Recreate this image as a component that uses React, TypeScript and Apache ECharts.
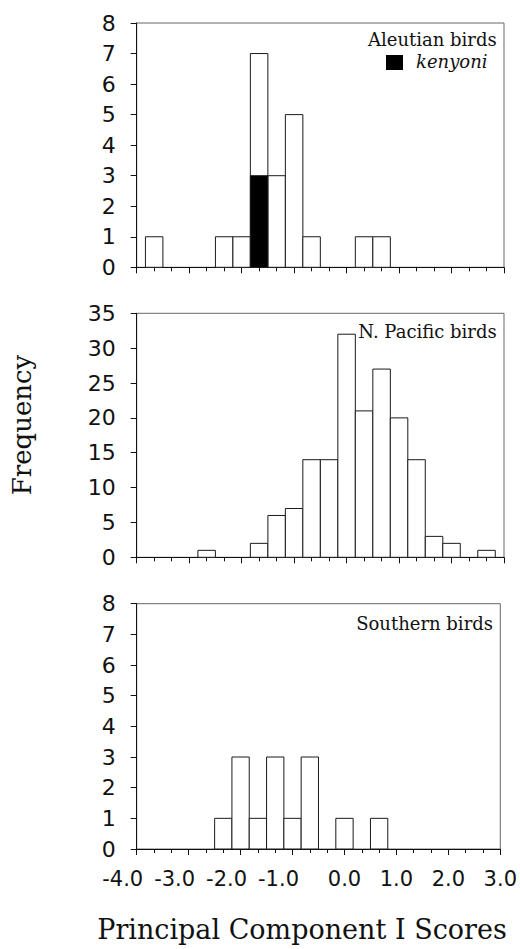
import React, { useEffect, useRef } from "react";
import * as echarts from "echarts";

// Histogram bin centres (PC I score) and bin width
const binCenters = [
  -3.667, -3.333, -3.0, -2.667, -2.333, -2.0, -1.667, -1.333, -1.0, -0.667,
  -0.333, 0.0, 0.333, 0.667, 1.0, 1.333, 1.667, 2.0, 2.333, 2.667,
];
const BIN_WIDTH = 1 / 3;

// Frequencies per bin
const aleutianTotal = [1, 0, 0, 0, 1, 1, 7, 3, 5, 1, 0, 0, 1, 1, 0, 0, 0, 0, 0, 0];
const kenyoni = [0, 0, 0, 0, 0, 0, 3, 0, 0, 0, 0, 0, 0, 0, 0, 0, 0, 0, 0, 0];
const nPacific = [0, 0, 0, 1, 0, 0, 2, 6, 7, 14, 14, 32, 21, 27, 20, 14, 3, 2, 0, 1];
const southern = [0, 0, 0, 0, 1, 3, 1, 3, 1, 3, 0, 1, 0, 1, 0, 0, 0, 0, 0, 0];

const panelTitles = ["Aleutian birds", "N. Pacific birds", "Southern birds"];
const legendLabel = "kenyoni";
const yMax = [8, 35, 8];
const yInterval = [1, 5, 1];
const xMin = -4;
const xMax = 3;
const yTitle = "Frequency";
const xTitle = "Principal Component I Scores";

const SANS = "DejaVu Sans";
const SERIF = "DejaVu Serif";

export default function App() {
  const ref = useRef<HTMLDivElement>(null);

  useEffect(() => {
    if (!ref.current) return;
    const chart = echarts.init(ref.current, null, { renderer: "svg" });

    const gridTops = [23, 313.3, 603.7];
    const gridHeights = [244.3, 244, 245.3];

    const grids = gridTops.map((t, i) => ({
      left: 136.7,
      top: t,
      width: 367.3,
      height: gridHeights[i],
      show: true,
      borderColor: "#666",
      borderWidth: 1,
      backgroundColor: "transparent",
    }));

    const xAxes = [0, 1, 2].map((i) => ({
      type: "value",
      gridIndex: i,
      min: xMin,
      max: xMax,
      interval: 1,
      splitLine: { show: false },
      axisLine: { show: true, onZero: false, lineStyle: { color: "#111", width: 1 } },
      axisTick: { show: true, inside: false, length: 6, lineStyle: { color: "#111" } },
      minorTick: { show: true, splitNumber: 3, length: 4, lineStyle: { color: "#111" } },
      minorSplitLine: { show: false },
      axisLabel: {
        show: i === 2,
        margin: 19,
        fontFamily: SANS,
        fontSize: 21,
        color: "#111",
        formatter: (v: number) => (v < 0 ? `{n|${v.toFixed(1)}}` : v.toFixed(1)),
        rich: {
          n: { padding: [0, 28, 0, 0], fontFamily: SANS, fontSize: 21, color: "#111" },
        },
      },
    }));

    const yAxes = [0, 1, 2].map((i) => ({
      type: "value",
      gridIndex: i,
      min: 0,
      max: yMax[i],
      interval: yInterval[i],
      splitLine: { show: false },
      axisLine: { show: true, onZero: false, lineStyle: { color: "#111", width: 1 } },
      axisTick: { show: true, inside: false, length: 6, lineStyle: { color: "#111" } },
      axisLabel: {
        margin: 21,
        fontFamily: SANS,
        fontSize: 22,
        color: "#111",
      },
    }));

    const makeSeries = (counts: number[], idx: number, fill: string, z: number) => ({
      type: "custom",
      xAxisIndex: idx,
      yAxisIndex: idx,
      clip: false,
      z,
      encode: { x: 0, y: 1 },
      data: binCenters.map((c, i) => [c, counts[i]]),
      renderItem: (params: any, api: any) => {
        const c = api.value(0);
        const v = api.value(1);
        if (!v) return null;
        const p0 = api.coord([c - BIN_WIDTH / 2, v]);
        const p1 = api.coord([c + BIN_WIDTH / 2, 0]);
        return {
          type: "rect",
          shape: { x: p0[0], y: p0[1], width: p1[0] - p0[0], height: p1[1] - p0[1] },
          style: { fill, stroke: "#1a1a1a", lineWidth: 1 },
        };
      },
    });

    chart.setOption({
      animation: false,
      backgroundColor: "#fff",
      grid: grids,
      xAxis: xAxes,
      yAxis: yAxes,
      series: [
        makeSeries(aleutianTotal, 0, "#fff", 2),
        makeSeries(kenyoni, 0, "#000", 3),
        makeSeries(nPacific, 1, "#fff", 2),
        makeSeries(southern, 2, "#fff", 2),
      ],
      graphic: [
        {
          type: "text",
          x: 496.7,
          y: 39,
          style: { text: panelTitles[0], font: `18px "${SERIF}"`, fill: "#111", align: "right", verticalAlign: "middle" },
        },
        {
          type: "rect",
          shape: { x: 386, y: 55, width: 17, height: 15 },
          style: { fill: "#000" },
        },
        {
          type: "text",
          x: 416,
          y: 61,
          style: { text: legendLabel, font: `italic 18px "${SERIF}"`, fill: "#111", align: "left", verticalAlign: "middle" },
        },
        {
          type: "text",
          x: 496.7,
          y: 331,
          style: { text: panelTitles[1], font: `18px "${SERIF}"`, fill: "#111", align: "right", verticalAlign: "middle" },
        },
        {
          type: "text",
          x: 493,
          y: 623,
          style: { text: panelTitles[2], font: `18px "${SERIF}"`, fill: "#111", align: "right", verticalAlign: "middle" },
        },
        {
          type: "text",
          x: 22,
          y: 425,
          rotation: Math.PI / 2,
          style: { text: yTitle, font: `26px "${SERIF}"`, fill: "#111", align: "center", verticalAlign: "middle" },
        },
        {
          type: "text",
          x: 302,
          y: 929,
          style: { text: xTitle, font: `27px "${SERIF}"`, fill: "#111", align: "center", verticalAlign: "middle" },
        },
      ],
    });

    return () => chart.dispose();
  }, []);

  return (
    <div
      ref={ref}
      style={{ position: "absolute", left: 0, top: 0, width: 520, height: 949 }}
    />
  );
}
